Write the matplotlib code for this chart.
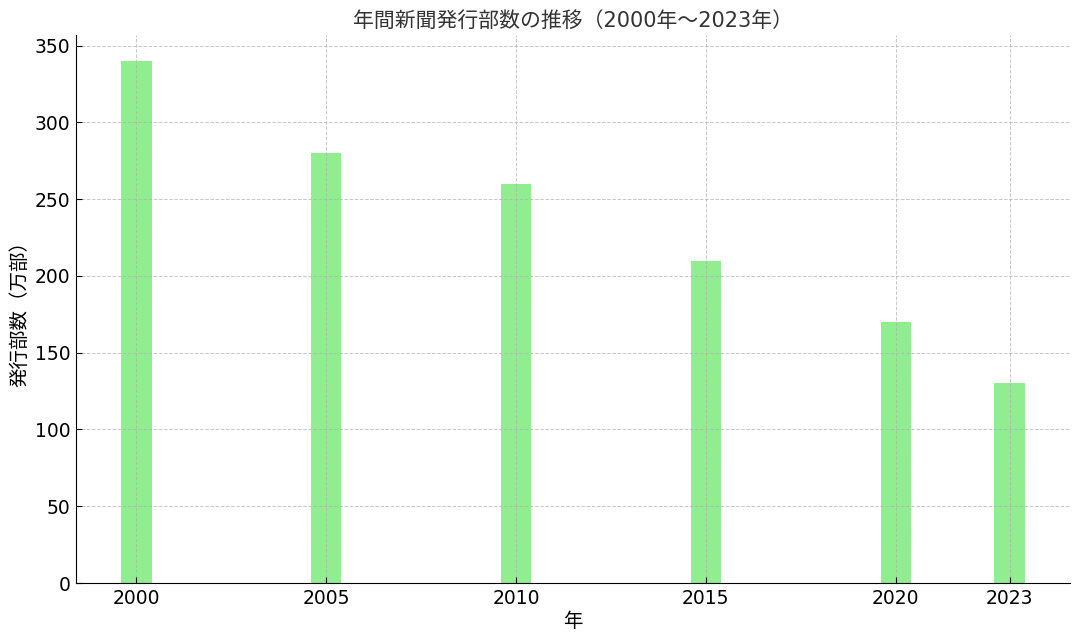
import numpy as np
import matplotlib
matplotlib.use('Agg')
import matplotlib.pyplot as plt

plt.rcParams['font.family'] = ['DejaVu Sans', 'Noto Sans CJK JP']

years = [2000, 2005, 2010, 2015, 2020, 2023]
values = [340, 280, 260, 210, 170, 130]

title = '年間新聞発行部数の推移（2000年～2023年）'
xlabel = '年'
ylabel = '発行部数（万部）'


def main():
    fig = plt.figure(figsize=(10.8, 6.42), dpi=100)
    axe = fig.add_subplot(111)
    fig.subplots_adjust(left=0.0704, right=0.9907, top=0.9455, bottom=0.0919)

    axe.bar(years, values, width=0.8, color='#90EE90', zorder=1)
    axe.set_xticks(years)
    axe.grid(True, ls='--', lw=0.7, color='#b0b0b0', alpha=0.7, zorder=2)
    axe.set_axisbelow(False)

    axe.spines['top'].set_visible(False)
    axe.spines['right'].set_visible(False)
    axe.tick_params(axis='both', direction='in', labelsize=13.5, length=4, pad=4)

    axe.set_title(title, fontsize=15, color='#333333')
    axe.set_xlabel(xlabel, fontsize=14, labelpad=3)
    axe.set_ylabel(ylabel, fontsize=14)

    plt.savefig('out.png', dpi=100)


if __name__ == '__main__':
    main()
